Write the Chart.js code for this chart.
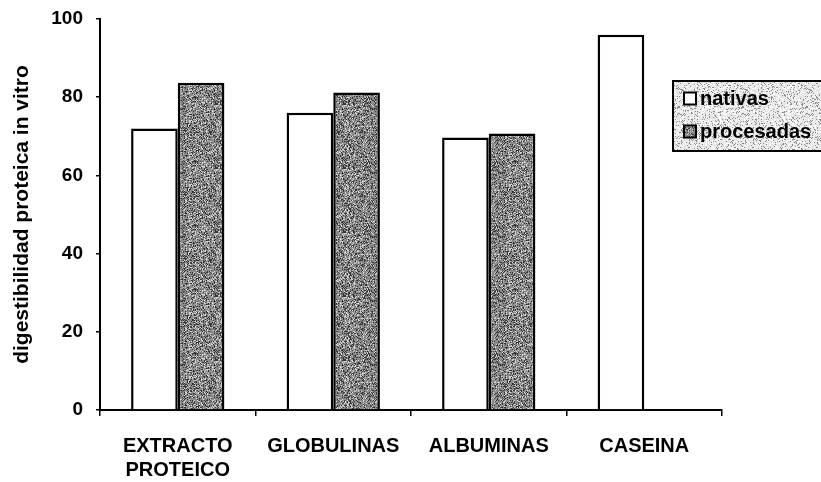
<!DOCTYPE html>
<html>
<head>
<meta charset="utf-8">
<script src="https://cdn.jsdelivr.net/npm/chart.js@4"></script>
<style>
html,body{margin:0;padding:0;background:#fff;}
#wrap{width:821px;height:482px;position:relative;}
</style>
</head>
<body>
<div id="wrap"><canvas id="c" width="821" height="482"></canvas></div>
<script>
const categories = [['EXTRACTO','PROTEICO'], 'GLOBULINAS', 'ALBUMINAS', 'CASEINA'];
const nativas = [72, 76, 69.7, 96];
const procesadas = [83.7, 81.2, 70.7, null];
const yTicks = [0, 20, 40, 60, 80, 100];
const seriesLabels = ['nativas', 'procesadas'];
const yTitle = 'digestibilidad proteica in vitro';

const FONT = "'Liberation Sans',Arial,sans-serif";

function speckle(base, dark, light, densD, densL) {
  const c = document.createElement('canvas');
  c.width = 64; c.height = 64;
  const g = c.getContext('2d');
  g.fillStyle = base; g.fillRect(0, 0, 64, 64);
  for (let y = 0; y < 64; y++) {
    for (let x = 0; x < 64; x++) {
      const h = ((x * 374761393 + y * 668265263) ^ (x * y * 2246822519)) >>> 0;
      const v = ((h ^ (h >>> 13)) * 1274126177 >>> 0) % 1000;
      if (v < densD) { g.fillStyle = dark; g.fillRect(x, y, 1, 1); }
      else if (v > 1000 - densL) { g.fillStyle = light; g.fillRect(x, y, 1, 1); }
    }
  }
  return document.getElementById('c').getContext('2d').createPattern(c, 'repeat');
}
const barPattern = speckle('#8a8a8a', '#3a3a3a', '#d0d0d0', 230, 190);
const legendPattern = speckle('#e6e6e6', '#8a8a8a', '#ffffff', 130, 260);

const legendPlugin = {
  id: 'customLegend',
  afterDraw(chart) {
    const ctx = chart.ctx;
    ctx.save();
    const x = 673, y = 81, w = 170, h = 70;
    ctx.fillStyle = legendPattern;
    ctx.fillRect(x, y, w, h);
    ctx.strokeStyle = '#000'; ctx.lineWidth = 2;
    ctx.strokeRect(x, y, w, h);
    chart.data.datasets.forEach((d, i) => {
      const cy = y + 17.5 + i * 33;
      ctx.fillStyle = d.backgroundColor;
      ctx.fillRect(x + 11, cy - 6, 12, 12);
      ctx.lineWidth = 2; ctx.strokeStyle = '#000';
      ctx.strokeRect(x + 11, cy - 6, 12, 12);
      ctx.fillStyle = '#000';
      ctx.font = 'bold 20px ' + FONT;
      ctx.textBaseline = 'middle';
      ctx.textAlign = 'left';
      ctx.fillText(d.label, x + 27, cy + 1);
    });
    ctx.restore();
  }
};

new Chart(document.getElementById('c'), {
  type: 'bar',
  data: {
    labels: categories,
    datasets: [
      { label: seriesLabels[0], data: nativas, backgroundColor: '#ffffff', borderColor: '#000', borderWidth: 2.5, borderSkipped: 'bottom' },
      { label: seriesLabels[1], data: procesadas, backgroundColor: barPattern, borderColor: '#000', borderWidth: 2.5, borderSkipped: 'bottom' }
    ]
  },
  options: {
    responsive: false,
    animation: false,
    devicePixelRatio: 1,
    layout: { padding: { top: 19, right: 99, left: 0, bottom: 0 } },
    categoryPercentage: 0.6,
    barPercentage: 1.0,
    plugins: { legend: { display: false }, tooltip: { enabled: false } },
    scales: {
      x: {
        grid: { display: true, drawOnChartArea: false, offset: true, color: '#000', lineWidth: 1.5, tickLength: 6 },
        border: { display: true, color: '#000', width: 2 },
        ticks: { color: '#000', font: { family: FONT, size: 20, weight: 'bold', lineHeight: 1.2 }, padding: 18, maxRotation: 0, autoSkip: false },
        afterFit(s) { s.height = 72; s.paddingLeft = 0; s.paddingRight = 0; }
      },
      y: {
        min: 0, max: 100,
        afterBuildTicks(s) { s.ticks = yTicks.map(v => ({ value: v })); },
        grid: { display: true, drawOnChartArea: false, color: '#000', lineWidth: 1.5, tickLength: 4 },
        border: { display: true, color: '#000', width: 2 },
        ticks: { color: '#000', font: { family: FONT, size: 19, weight: 'bold' }, padding: 13 },
        title: { display: true, text: yTitle, color: '#000', font: { family: FONT, size: 21, weight: 'bold' }, padding: { top: 10, bottom: 4 } },
        afterFit(s) { s.width = 100; s.paddingTop = 0; s.paddingBottom = 0; }
      }
    }
  },
  plugins: [legendPlugin]
});
</script>
</body>
</html>
